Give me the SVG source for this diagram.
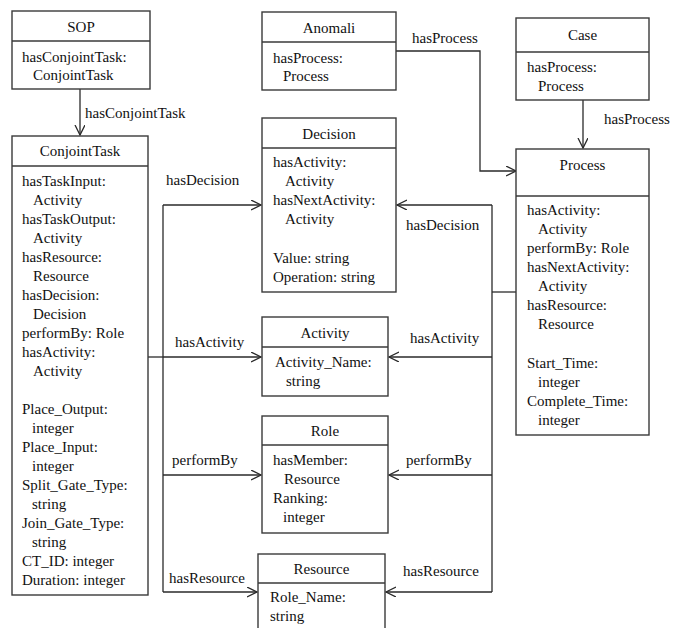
<svg xmlns="http://www.w3.org/2000/svg" width="691" height="628" viewBox="0 0 691 628">
<defs>
<style>
.box{fill:#fff;stroke:#3a3a3a;stroke-width:1.4}
.div{stroke:#3a3a3a;stroke-width:1.4}
.c{fill:none;stroke:#2a2a2a;stroke-width:1.3}
</style>
<marker id="ah" markerUnits="userSpaceOnUse" markerWidth="12" markerHeight="12" refX="10" refY="5" orient="auto" viewBox="0 0 12 12">
<path d="M0,0 L10,5 L0,10" fill="none" stroke="#2a2a2a" stroke-width="1.3"/>
</marker>
</defs>
<rect width="691" height="628" fill="#fff"/>

<g id="connectors">
<line class="c" x1="80" y1="89" x2="80" y2="135" marker-end="url(#ah)"/>
<text x="85" y="118" style="font-family:'Liberation Serif',serif;font-size:15px;fill:#111">hasConjointTask</text>
<polyline class="c" points="396,51 480,51 480,171 516,171" marker-end="url(#ah)"/>
<text x="412" y="43" style="font-family:'Liberation Serif',serif;font-size:15px;fill:#111">hasProcess</text>
<line class="c" x1="583" y1="100" x2="583" y2="148" marker-end="url(#ah)"/>
<text x="604" y="124" style="font-family:'Liberation Serif',serif;font-size:15px;fill:#111">hasProcess</text>
<line class="c" x1="148" y1="357" x2="163" y2="357"/>
<line class="c" x1="163" y1="205" x2="163" y2="592"/>
<line class="c" x1="163" y1="205" x2="261" y2="205" marker-end="url(#ah)"/>
<line class="c" x1="163" y1="357" x2="261" y2="357" marker-end="url(#ah)"/>
<line class="c" x1="163" y1="475" x2="261" y2="475" marker-end="url(#ah)"/>
<line class="c" x1="163" y1="592" x2="257" y2="592" marker-end="url(#ah)"/>
<text x="166" y="185" style="font-family:'Liberation Serif',serif;font-size:15px;fill:#111">hasDecision</text>
<text x="175" y="347" style="font-family:'Liberation Serif',serif;font-size:15px;fill:#111">hasActivity</text>
<text x="172" y="465" style="font-family:'Liberation Serif',serif;font-size:15px;fill:#111">performBy</text>
<text x="169" y="583" style="font-family:'Liberation Serif',serif;font-size:15px;fill:#111">hasResource</text>
<line class="c" x1="516" y1="292" x2="492" y2="292"/>
<line class="c" x1="492" y1="205" x2="492" y2="592"/>
<line class="c" x1="492" y1="205" x2="397" y2="205" marker-end="url(#ah)"/>
<line class="c" x1="492" y1="357" x2="389" y2="357" marker-end="url(#ah)"/>
<line class="c" x1="492" y1="475" x2="389" y2="475" marker-end="url(#ah)"/>
<line class="c" x1="492" y1="592" x2="386" y2="592" marker-end="url(#ah)"/>
<text x="406" y="230" style="font-family:'Liberation Serif',serif;font-size:15px;fill:#111">hasDecision</text>
<text x="410" y="343" style="font-family:'Liberation Serif',serif;font-size:15px;fill:#111">hasActivity</text>
<text x="406" y="465" style="font-family:'Liberation Serif',serif;font-size:15px;fill:#111">performBy</text>
<text x="403" y="576" style="font-family:'Liberation Serif',serif;font-size:15px;fill:#111">hasResource</text>
</g>

<g id="SOP">
<rect class="box" x="12" y="11" width="138" height="78"/>
<line class="div" x1="12" y1="41" x2="150" y2="41"/>
<text x="81" y="32" text-anchor="middle" style="font-family:'Liberation Serif',serif;font-size:15px;fill:#111">SOP</text>
<text x="22" y="62" style="font-family:'Liberation Serif',serif;font-size:15px;fill:#111">hasConjointTask:</text>
<text x="33" y="80" style="font-family:'Liberation Serif',serif;font-size:15px;fill:#111">ConjointTask</text>
</g>

<g id="ConjointTask">
<rect class="box" x="12" y="136" width="136" height="459"/>
<line class="div" x1="12" y1="166" x2="148" y2="166"/>
<text x="80" y="156" text-anchor="middle" style="font-family:'Liberation Serif',serif;font-size:15px;fill:#111">ConjointTask</text>
<text x="22" y="185.5" style="font-family:'Liberation Serif',serif;font-size:15px;fill:#111">hasTaskInput:</text>
<text x="33" y="204.5" style="font-family:'Liberation Serif',serif;font-size:15px;fill:#111">Activity</text>
<text x="22" y="223.5" style="font-family:'Liberation Serif',serif;font-size:15px;fill:#111">hasTaskOutput:</text>
<text x="33" y="242.5" style="font-family:'Liberation Serif',serif;font-size:15px;fill:#111">Activity</text>
<text x="22" y="262" style="font-family:'Liberation Serif',serif;font-size:15px;fill:#111">hasResource:</text>
<text x="33" y="281" style="font-family:'Liberation Serif',serif;font-size:15px;fill:#111">Resource</text>
<text x="22" y="300" style="font-family:'Liberation Serif',serif;font-size:15px;fill:#111">hasDecision:</text>
<text x="33" y="319" style="font-family:'Liberation Serif',serif;font-size:15px;fill:#111">Decision</text>
<text x="22" y="338" style="font-family:'Liberation Serif',serif;font-size:15px;fill:#111">performBy: Role</text>
<text x="22" y="357" style="font-family:'Liberation Serif',serif;font-size:15px;fill:#111">hasActivity:</text>
<text x="33" y="376" style="font-family:'Liberation Serif',serif;font-size:15px;fill:#111">Activity</text>
<text x="22" y="414" style="font-family:'Liberation Serif',serif;font-size:15px;fill:#111">Place_Output:</text>
<text x="32" y="433" style="font-family:'Liberation Serif',serif;font-size:15px;fill:#111">integer</text>
<text x="22" y="452" style="font-family:'Liberation Serif',serif;font-size:15px;fill:#111">Place_Input:</text>
<text x="32" y="471" style="font-family:'Liberation Serif',serif;font-size:15px;fill:#111">integer</text>
<text x="22" y="490" style="font-family:'Liberation Serif',serif;font-size:15px;fill:#111">Split_Gate_Type:</text>
<text x="32" y="509" style="font-family:'Liberation Serif',serif;font-size:15px;fill:#111">string</text>
<text x="22" y="528" style="font-family:'Liberation Serif',serif;font-size:15px;fill:#111">Join_Gate_Type:</text>
<text x="32" y="547" style="font-family:'Liberation Serif',serif;font-size:15px;fill:#111">string</text>
<text x="22" y="566" style="font-family:'Liberation Serif',serif;font-size:15px;fill:#111">CT_ID: integer</text>
<text x="22" y="585" style="font-family:'Liberation Serif',serif;font-size:15px;fill:#111">Duration: integer</text>
</g>

<g id="Anomali">
<rect class="box" x="262" y="12" width="134" height="78"/>
<line class="div" x1="262" y1="42" x2="396" y2="42"/>
<text x="329" y="32.5" text-anchor="middle" style="font-family:'Liberation Serif',serif;font-size:15px;fill:#111">Anomali</text>
<text x="273" y="62.5" style="font-family:'Liberation Serif',serif;font-size:15px;fill:#111">hasProcess:</text>
<text x="283" y="81" style="font-family:'Liberation Serif',serif;font-size:15px;fill:#111">Process</text>
</g>

<g id="Decision">
<rect class="box" x="262" y="118" width="134" height="174"/>
<line class="div" x1="262" y1="148" x2="396" y2="148"/>
<text x="329" y="139" text-anchor="middle" style="font-family:'Liberation Serif',serif;font-size:15px;fill:#111">Decision</text>
<text x="273" y="167" style="font-family:'Liberation Serif',serif;font-size:15px;fill:#111">hasActivity:</text>
<text x="285" y="186" style="font-family:'Liberation Serif',serif;font-size:15px;fill:#111">Activity</text>
<text x="273" y="205" style="font-family:'Liberation Serif',serif;font-size:15px;fill:#111">hasNextActivity:</text>
<text x="285" y="224" style="font-family:'Liberation Serif',serif;font-size:15px;fill:#111">Activity</text>
<text x="273" y="263" style="font-family:'Liberation Serif',serif;font-size:15px;fill:#111">Value: string</text>
<text x="273" y="282" style="font-family:'Liberation Serif',serif;font-size:15px;fill:#111">Operation: string</text>
</g>

<g id="Activity">
<rect class="box" x="262" y="317" width="126" height="79"/>
<line class="div" x1="262" y1="347" x2="388" y2="347"/>
<text x="325" y="337.5" text-anchor="middle" style="font-family:'Liberation Serif',serif;font-size:15px;fill:#111">Activity</text>
<text x="275" y="367" style="font-family:'Liberation Serif',serif;font-size:15px;fill:#111">Activity_Name:</text>
<text x="286" y="386" style="font-family:'Liberation Serif',serif;font-size:15px;fill:#111">string</text>
</g>

<g id="Role">
<rect class="box" x="262" y="416" width="126" height="117"/>
<line class="div" x1="262" y1="445" x2="388" y2="445"/>
<text x="325" y="436" text-anchor="middle" style="font-family:'Liberation Serif',serif;font-size:15px;fill:#111">Role</text>
<text x="273" y="465" style="font-family:'Liberation Serif',serif;font-size:15px;fill:#111">hasMember:</text>
<text x="284" y="484" style="font-family:'Liberation Serif',serif;font-size:15px;fill:#111">Resource</text>
<text x="273" y="503" style="font-family:'Liberation Serif',serif;font-size:15px;fill:#111">Ranking:</text>
<text x="283" y="522" style="font-family:'Liberation Serif',serif;font-size:15px;fill:#111">integer</text>
</g>

<g id="Resource">
<rect class="box" x="258" y="554" width="127" height="90"/>
<line class="div" x1="258" y1="583" x2="385" y2="583"/>
<text x="321.5" y="573.5" text-anchor="middle" style="font-family:'Liberation Serif',serif;font-size:15px;fill:#111">Resource</text>
<text x="270" y="602" style="font-family:'Liberation Serif',serif;font-size:15px;fill:#111">Role_Name:</text>
<text x="270" y="621" style="font-family:'Liberation Serif',serif;font-size:15px;fill:#111">string</text>
</g>

<g id="Case">
<rect class="box" x="516" y="18" width="133" height="82"/>
<line class="div" x1="516" y1="52" x2="649" y2="52"/>
<text x="582.5" y="39.5" text-anchor="middle" style="font-family:'Liberation Serif',serif;font-size:15px;fill:#111">Case</text>
<text x="527" y="71.5" style="font-family:'Liberation Serif',serif;font-size:15px;fill:#111">hasProcess:</text>
<text x="538" y="90.5" style="font-family:'Liberation Serif',serif;font-size:15px;fill:#111">Process</text>
</g>

<g id="Process">
<rect class="box" x="516" y="149" width="133" height="286"/>
<line class="div" x1="516" y1="196" x2="649" y2="196"/>
<text x="582.5" y="170" text-anchor="middle" style="font-family:'Liberation Serif',serif;font-size:15px;fill:#111">Process</text>
<text x="527" y="215" style="font-family:'Liberation Serif',serif;font-size:15px;fill:#111">hasActivity:</text>
<text x="538" y="234" style="font-family:'Liberation Serif',serif;font-size:15px;fill:#111">Activity</text>
<text x="527" y="253" style="font-family:'Liberation Serif',serif;font-size:15px;fill:#111">performBy: Role</text>
<text x="527" y="272" style="font-family:'Liberation Serif',serif;font-size:15px;fill:#111">hasNextActivity:</text>
<text x="538" y="291" style="font-family:'Liberation Serif',serif;font-size:15px;fill:#111">Activity</text>
<text x="527" y="310" style="font-family:'Liberation Serif',serif;font-size:15px;fill:#111">hasResource:</text>
<text x="538" y="329" style="font-family:'Liberation Serif',serif;font-size:15px;fill:#111">Resource</text>
<text x="527" y="368" style="font-family:'Liberation Serif',serif;font-size:15px;fill:#111">Start_Time:</text>
<text x="538" y="387" style="font-family:'Liberation Serif',serif;font-size:15px;fill:#111">integer</text>
<text x="527" y="406" style="font-family:'Liberation Serif',serif;font-size:15px;fill:#111">Complete_Time:</text>
<text x="538" y="425" style="font-family:'Liberation Serif',serif;font-size:15px;fill:#111">integer</text>
</g>
</svg>
